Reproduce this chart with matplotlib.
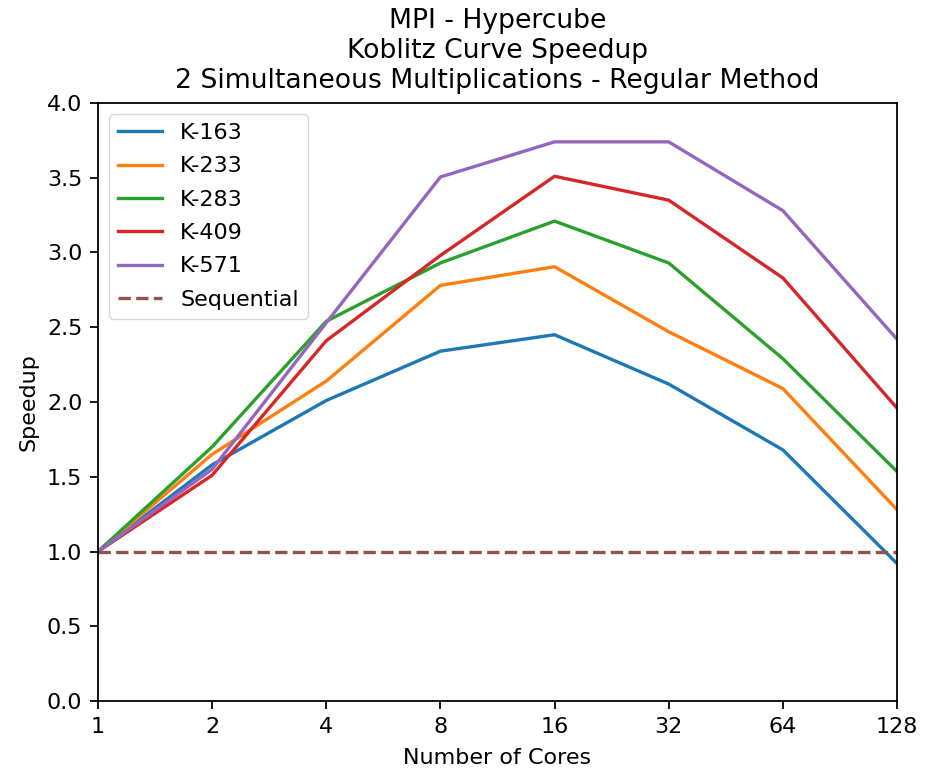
import matplotlib
matplotlib.use("Agg")
import matplotlib.pyplot as plt
from matplotlib.ticker import FixedLocator, FixedFormatter, NullLocator

cores = [1, 2, 4, 8, 16, 32, 64, 128]
core_labels = ["1", "2", "4", "8", "16", "32", "64", "128"]
k163 = [1.0, 1.58, 2.01, 2.34, 2.45, 2.12, 1.68, 0.92]
k233 = [1.0, 1.65, 2.14, 2.78, 2.905, 2.47, 2.09, 1.28]
k283 = [1.0, 1.70, 2.54, 2.93, 3.21, 2.93, 2.29, 1.535]
k409 = [1.0, 1.51, 2.41, 2.98, 3.51, 3.35, 2.83, 1.96]
k571 = [1.0, 1.55, 2.53, 3.505, 3.74, 3.74, 3.28, 2.42]
sequential = [1.0] * len(cores)

s = 1.6
fig = plt.figure(figsize=(9.33, 7.68), dpi=100)
ax = fig.add_axes([0.105, 0.0872, 0.8564, 0.7787])
lw = 1.5 * s
ax.plot(cores, k163, color="#1f77b4", lw=lw, label="K-163")
ax.plot(cores, k233, color="#ff7f0e", lw=lw, label="K-233")
ax.plot(cores, k283, color="#2ca02c", lw=lw, label="K-283")
ax.plot(cores, k409, color="#d62728", lw=lw, label="K-409")
ax.plot(cores, k571, color="#9467bd", lw=lw, label="K-571")
ax.plot(cores, sequential, color="#8c564b", lw=lw, ls="--", label="Sequential")

ax.set_xscale("log", base=2)
ax.xaxis.set_major_locator(FixedLocator(cores))
ax.xaxis.set_major_formatter(FixedFormatter(core_labels))
ax.xaxis.set_minor_locator(NullLocator())
ax.set_xlim(1, 128)
ax.set_ylim(0, 4.0)
ax.set_yticks([0, 0.5, 1.0, 1.5, 2.0, 2.5, 3.0, 3.5, 4.0])
ax.tick_params(labelsize=10 * s, length=3.5 * s, width=0.8 * s, pad=3.5 * s)
for sp in ax.spines.values():
    sp.set_linewidth(0.8 * s)
ax.set_xlabel("Number of Cores", fontsize=10 * s, labelpad=8.5)
ax.set_ylabel("Speedup", fontsize=10 * s, labelpad=4 * s)
ax.set_title("MPI - Hypercube\nKoblitz Curve Speedup\n2 Simultaneous Multiplications - Regular Method",
             fontsize=12 * s, pad=6 * s + 1)
ax.legend(loc="upper left", fontsize=10 * s, borderaxespad=0.5, framealpha=0.8,
          labelspacing=0.6)
fig.savefig("out.png", dpi=100)
